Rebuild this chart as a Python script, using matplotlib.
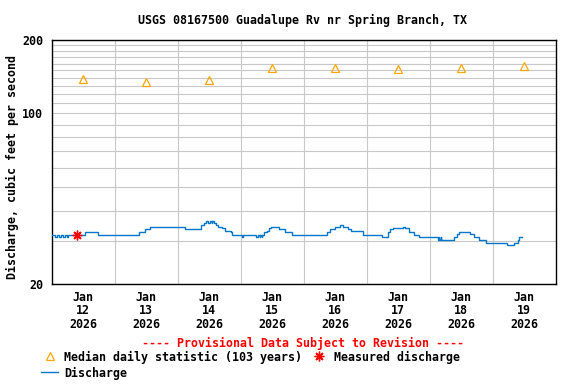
import matplotlib
matplotlib.use("Agg")
import matplotlib.pyplot as plt
import matplotlib.dates as mdates
from matplotlib.lines import Line2D
from matplotlib.ticker import FixedLocator, NullFormatter
import pandas as pd

# data
days = ["2026-01-12", "2026-01-13", "2026-01-14", "2026-01-15",
        "2026-01-16", "2026-01-17", "2026-01-18", "2026-01-19"]
day_labels = ["Jan\n12\n2026", "Jan\n13\n2026", "Jan\n14\n2026", "Jan\n15\n2026",
              "Jan\n16\n2026", "Jan\n17\n2026", "Jan\n18\n2026", "Jan\n19\n2026"]
median_cfs = [138, 135, 136.5, 154, 154, 151.5, 154, 156]

measured_time = ["2026-01-12 09:45"]
measured_cfs = [31.8]

dis_times = [
    "01-12 00:00", "01-12 01:15", "01-12 02:00", "01-12 02:45", "01-12 03:30",
    "01-12 04:30", "01-12 05:15", "01-12 05:45", "01-12 06:15", "01-12 12:45",
    "01-12 17:45", "01-13 09:30", "01-13 11:45", "01-13 13:30", "01-14 02:45",
    "01-14 09:00", "01-14 10:15", "01-14 11:00", "01-14 11:45", "01-14 12:15",
    "01-14 13:00", "01-14 13:15", "01-14 13:45", "01-14 14:30", "01-14 15:30",
    "01-14 17:00", "01-14 18:15", "01-14 20:15", "01-14 20:45", "01-15 00:45",
    "01-15 01:00", "01-15 06:00", "01-15 06:30", "01-15 07:15", "01-15 07:30",
    "01-15 08:00", "01-15 08:15", "01-15 09:00", "01-15 10:15", "01-15 10:45",
    "01-15 11:30", "01-15 14:30", "01-15 17:00", "01-15 19:30", "01-16 08:45",
    "01-16 10:15", "01-16 12:00", "01-16 14:00", "01-16 15:00", "01-16 16:45",
    "01-16 18:00", "01-16 22:30", "01-17 06:00", "01-17 08:00", "01-17 09:00",
    "01-17 10:15", "01-17 13:45", "01-17 14:30", "01-17 16:15", "01-17 18:15",
    "01-17 20:00", "01-18 03:15", "01-18 03:30", "01-18 03:45", "01-18 04:15",
    "01-18 04:30", "01-18 09:30", "01-18 10:30", "01-18 11:15", "01-18 15:15",
    "01-18 17:00", "01-18 18:45", "01-18 21:30", "01-19 05:30", "01-19 08:15",
    "01-19 09:45", "01-19 10:15", "01-19 11:15",
]
dis_cfs = [
    31.8, 31.3, 31.8, 31.3, 31.8,
    31.3, 31.8, 31.3, 31.8, 32.6,
    31.8, 32.6, 33.5, 34.2, 33.7,
    34.9, 35.6, 36.2, 35.7, 36.2,
    35.7, 36.2, 35.6, 34.9, 34.3,
    33.8, 33.1, 32.6, 31.8, 31.2,
    31.8, 31.2, 31.8, 31.2, 31.8,
    31.2, 31.8, 32.6, 33.1, 33.8,
    34.1, 33.7, 32.6, 31.8, 32.6,
    33.5, 34.1, 35.0, 34.1, 33.5,
    33.1, 31.8, 31.2, 32.6, 33.5,
    33.8, 34.1, 33.8, 32.7, 31.8,
    31.1, 30.3, 31.1, 30.3, 31.1,
    30.3, 31.1, 32.1, 32.7, 32.1,
    31.1, 30.3, 29.4, 28.9, 29.4,
    30.3, 31.1, 31.1,
]

FONT = "DejaVu Sans Mono"
FS = 8.4
W, H = 576, 384

t = pd.to_datetime(["2026-" + s for s in dis_times])
noon = pd.to_datetime(days) + pd.Timedelta(hours=12)
midnight = pd.date_range("2026-01-13", "2026-01-19", freq="D")

fig = plt.figure(figsize=(W / 100, H / 100), dpi=100)
ax = fig.add_axes([51.5 / W, 1 - 284 / H, 504.5 / W, 244 / H])

ax.plot(t, dis_cfs, color="#0077c8", lw=1.0, drawstyle="steps-post", zorder=3)
ax.plot(noon, median_cfs, ls="none", marker="^", ms=5.6, mfc="none",
        mec="#ffa500", mew=0.9, zorder=4)
ax.plot(pd.to_datetime(measured_time), measured_cfs, ls="none", marker=(8, 2, 0),
        ms=7, mec="red", mew=1.0, zorder=5)

ax.set_yscale("log")
ax.set_ylim(20, 200)
ax.set_xlim(pd.Timestamp("2026-01-12"), pd.Timestamp("2026-01-20 00:10"))

ax.yaxis.set_major_locator(FixedLocator([20, 100, 200]))
ax.yaxis.set_major_formatter(plt.FuncFormatter(lambda v, p: f"{v:.0f}"))
ax.yaxis.set_minor_locator(FixedLocator(list(range(30, 200, 10))))
ax.yaxis.set_minor_formatter(NullFormatter())

ax.set_xticks(noon)
ax.set_xticklabels(day_labels)
ax.xaxis.set_minor_locator(FixedLocator(mdates.date2num(midnight)))

for lab in ax.get_xticklabels() + ax.get_yticklabels():
    lab.set_fontfamily(FONT)
    lab.set_fontweight("bold")
    lab.set_fontsize(FS)
for lab in ax.get_xticklabels():
    lab.set_linespacing(1.05)

ax.tick_params(axis="both", which="both", length=0)
ax.tick_params(axis="y", pad=6)
ax.tick_params(axis="x", pad=5)

ax.grid(False)
ax.xaxis.grid(True, which="minor", color="#c8c8c8", lw=0.8)
ax.yaxis.grid(True, which="both", color="#c8c8c8", lw=0.8)
ax.set_axisbelow(True)
for s in ax.spines.values():
    s.set_linewidth(1.0)
    s.set_color("black")

txt = dict(fontfamily=FONT, fontweight="bold", fontsize=FS)
fig.text(303 / W, 1 - 20 / H, "USGS 08167500 Guadalupe Rv nr Spring Branch, TX",
         ha="center", va="center", **txt)
fig.text(12 / W, 1 - 167 / H, "Discharge, cubic feet per second",
         ha="center", va="center", rotation=90, **txt)
fig.text(302.5 / W, 1 - 343 / H, "---- Provisional Data Subject to Revision ----",
         ha="center", va="center", color="red", **txt)

# legend drawn by hand
fig.add_artist(Line2D([49.8 / W], [1 - 356 / H], ls="none", marker="^", ms=5.6,
                      mfc="none", mec="#ffa500", mew=0.9))
fig.text(63.8 / W, 1 - 357 / H, "Median daily statistic (103 years)",
         ha="left", va="center", **txt)
fig.add_artist(Line2D([319.3 / W], [1 - 356 / H], ls="none", marker=(8, 2, 0),
                      ms=7, mec="red", mew=1.0))
fig.text(333.7 / W, 1 - 357 / H, "Measured discharge", ha="left", va="center", **txt)
fig.add_artist(Line2D([40.6 / W, 58.3 / W], [1 - 372 / H, 1 - 372 / H],
                      color="#0077c8", lw=1.0))
fig.text(63.8 / W, 1 - 373 / H, "Discharge", ha="left", va="center", **txt)

fig.savefig("out.png", dpi=100)
